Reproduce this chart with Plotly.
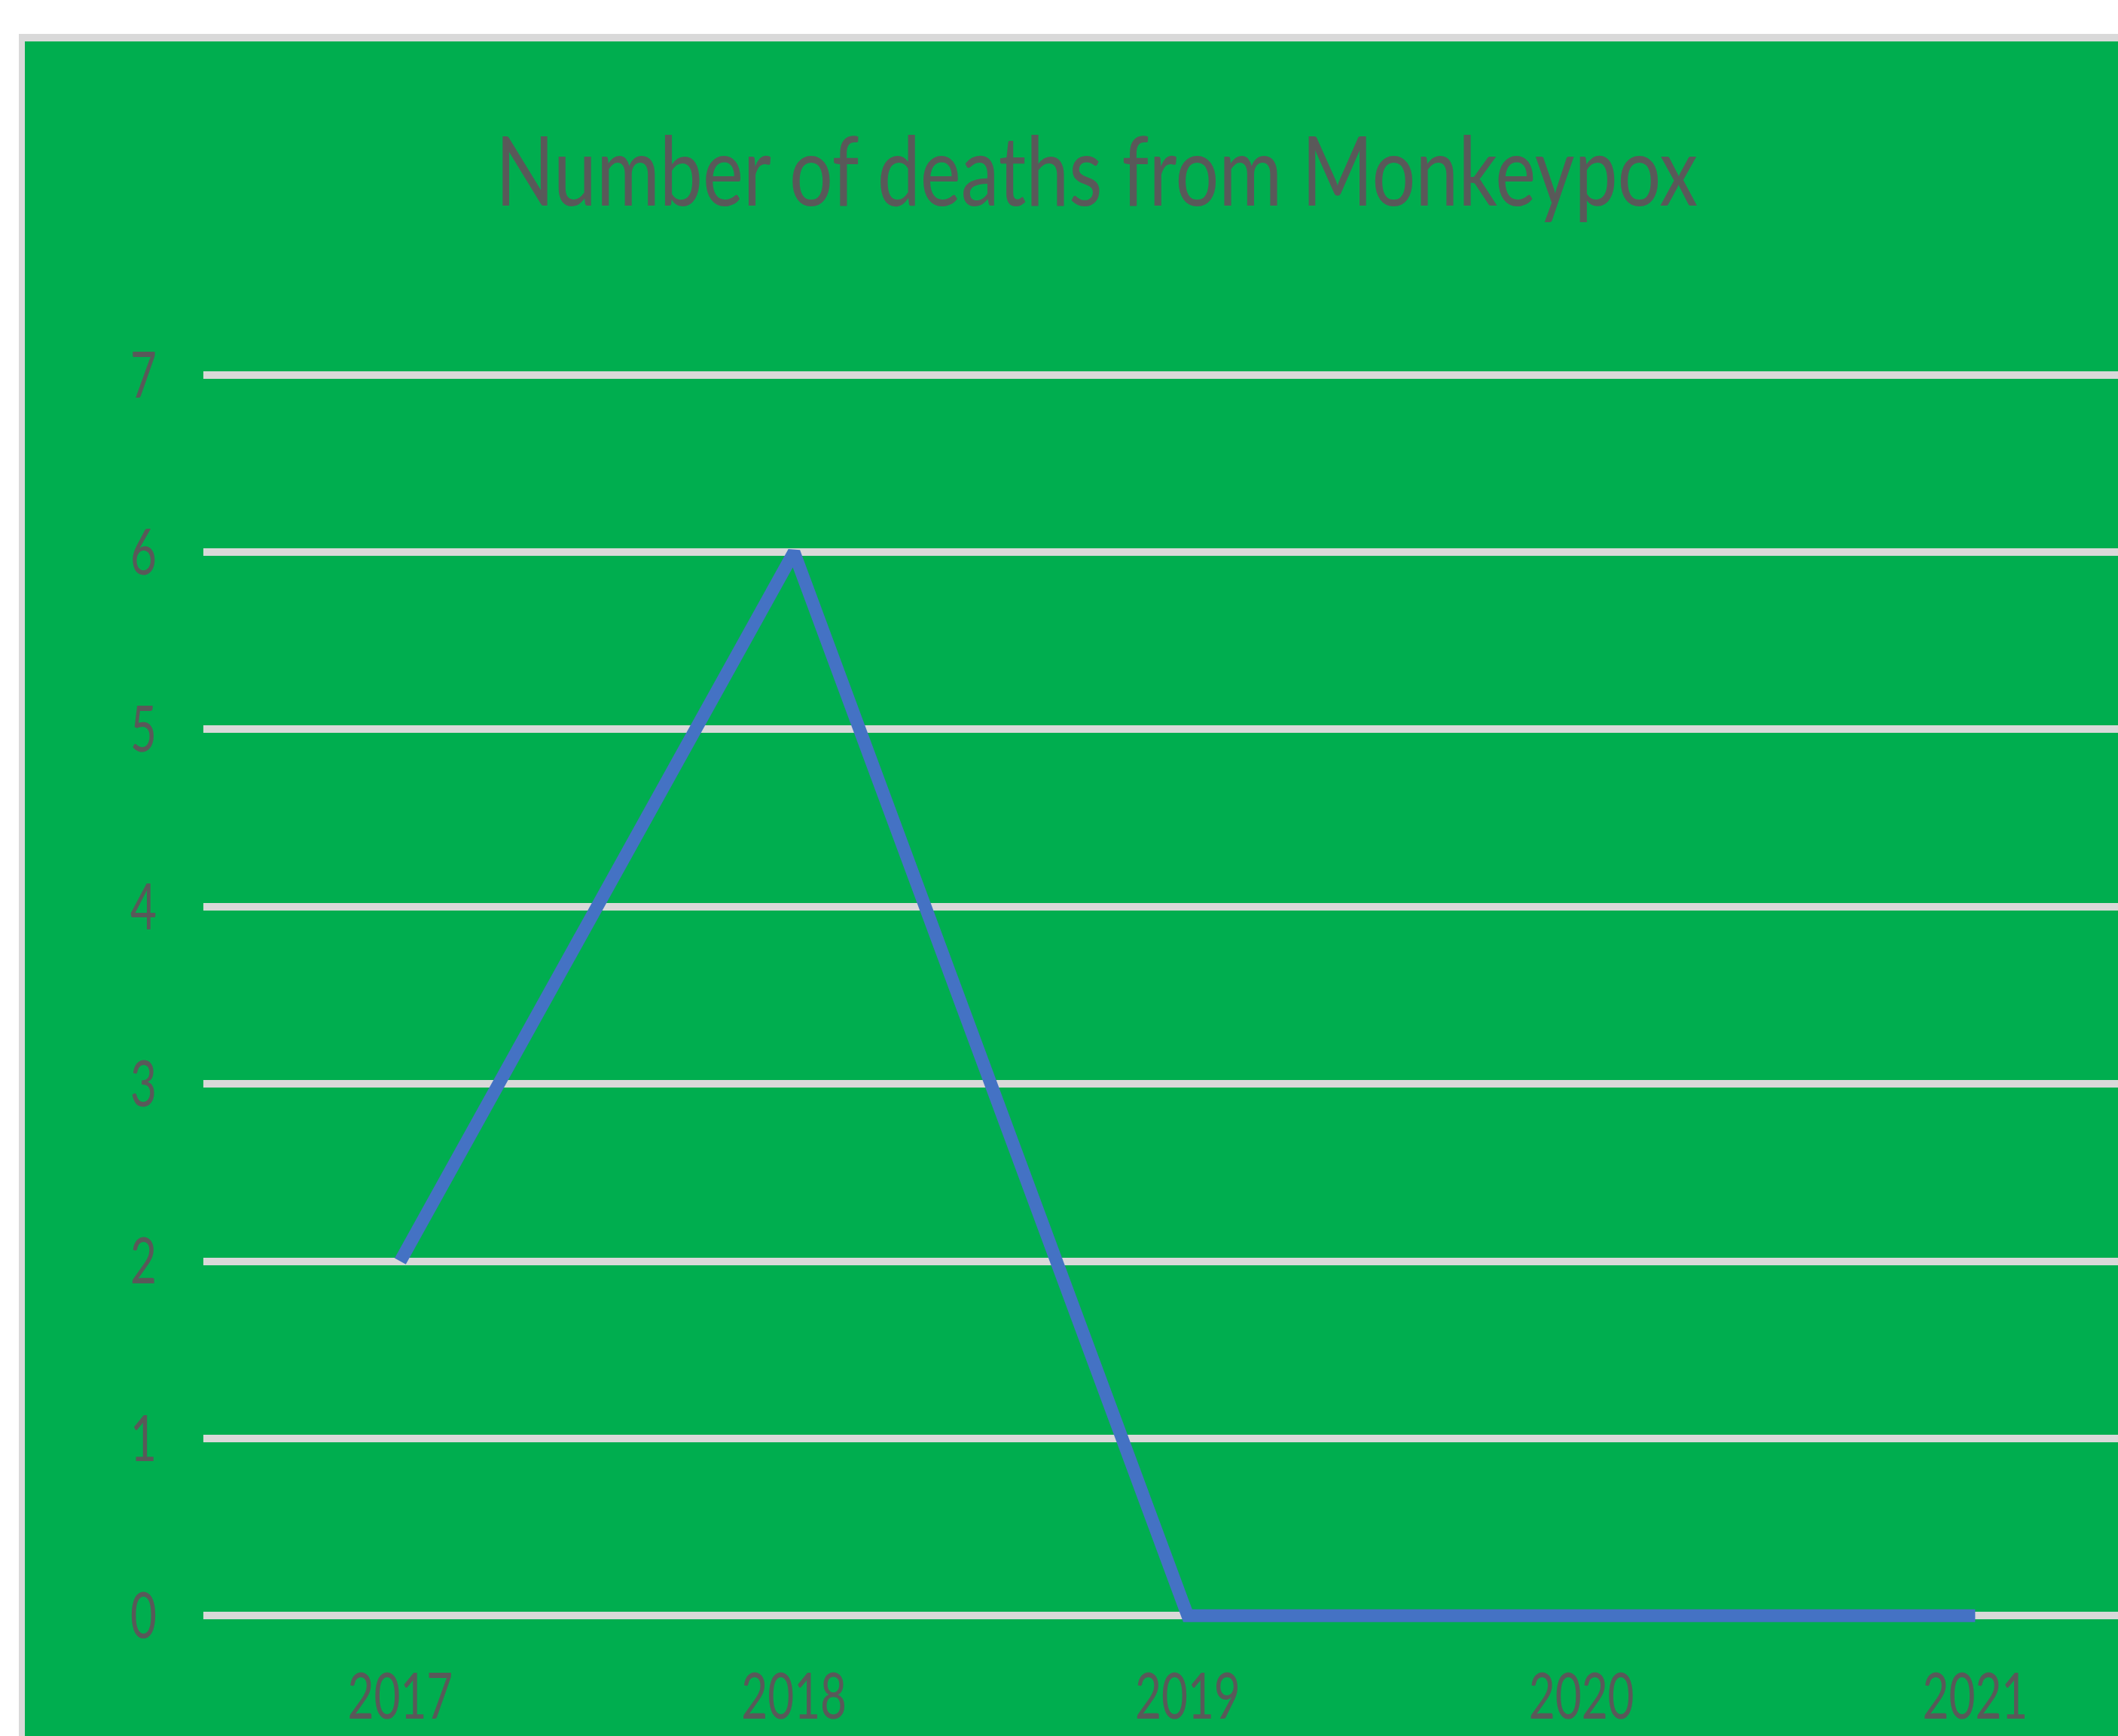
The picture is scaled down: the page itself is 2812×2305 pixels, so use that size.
import plotly.graph_objects as go

years = ["2017", "2018", "2019", "2020", "2021"]
deaths = [2, 6, 0, 0, 0]
y_ticks = [0, 1, 2, 3, 4, 5, 6, 7]
title_text = "Number of deaths from Monkeypox"

W, H = 2812, 2305
L, R = 270, 0
T, B = 486, 148
PW, PH = W - L - R, H - T - B

def px(x):
    return (x - L) / PW

def py(y):
    return (H - B - y) / PH

GREEN = "#00AE4F"
GRAY = "#D9D9D9"
TXT = "#595959"
FONT = "Lato, Roboto, Liberation Sans, sans-serif"

fig = go.Figure()
fig.add_trace(go.Scatter(
    x=years, y=deaths, mode="lines",
    line=dict(color="#4472C4", width=17),
    showlegend=False, hoverinfo="skip",
))

shapes = [
    dict(type="rect", xref="paper", yref="paper", x0=px(-50), x1=px(W + 50), y0=py(45), y1=py(-50),
         fillcolor="white", line=dict(width=0), layer="above"),
    dict(type="rect", xref="paper", yref="paper", x0=px(-50), x1=px(25), y0=py(H + 50), y1=py(-50),
         fillcolor="white", line=dict(width=0), layer="above"),
    dict(type="rect", xref="paper", yref="paper", x0=px(25), x1=px(W + 50), y0=py(55), y1=py(45),
         fillcolor=GRAY, line=dict(width=0), layer="above"),
    dict(type="rect", xref="paper", yref="paper", x0=px(25), x1=px(33), y0=py(H + 50), y1=py(45),
         fillcolor=GRAY, line=dict(width=0), layer="above"),
]

fig.update_layout(
    width=W, height=H,
    margin=dict(l=L, r=R, t=T, b=B, pad=0, autoexpand=False),
    paper_bgcolor=GREEN, plot_bgcolor=GREEN,
    shapes=shapes,
    title=dict(text=title_text, x=1456 / W, xref="container", xanchor="center",
               y=1 - 228 / H, yref="container", yanchor="middle",
               font=dict(family=FONT, size=128, color=TXT)),
    xaxis=dict(type="category", range=[-0.5, (W - L) / 522.75 - 0.5], showgrid=False, zeroline=False,
               showline=False, ticks="outside", ticklen=22, tickcolor="rgba(0,0,0,0)", automargin=False,
               tickfont=dict(family=FONT, size=85, color=TXT)),
    yaxis=dict(range=[-0.05, 7.05], tickvals=y_ticks, showgrid=True, gridcolor=GRAY, gridwidth=10,
               zeroline=False, showline=False, ticks="outside", ticklen=44, tickcolor="rgba(0,0,0,0)",
               automargin=False, tickfont=dict(family=FONT, size=85, color=TXT)),
)

# Horizontally condense the text (the reference uses a narrow, squeezed face)
post = """
var gd = document.getElementById('{plot_id}');
function squeeze(el, s, anchor) {
  var b = el.getBBox();
  var ax = anchor === 'right' ? (b.x + b.width) : (b.x + b.width / 2);
  var t = el.getAttribute('transform') || '';
  el.setAttribute('transform', t + ' translate(' + ax + ',0) scale(' + s + ',1) translate(' + (-ax) + ',0)');
}
var title = gd.querySelector('.gtitle');
var ts = 1;
if (title) { ts = 1596 / title.getBBox().width; squeeze(title, ts, 'center'); }
var xt = gd.querySelectorAll('.xtick text');
var ks = 1;
if (xt.length) { ks = 140 / xt[0].getBBox().width; }
xt.forEach(function (e) { squeeze(e, ks, 'center'); });
gd.querySelectorAll('.ytick text').forEach(function (e) { squeeze(e, ks, 'right'); });
"""

fig.write_html("out.html", post_script=post)
